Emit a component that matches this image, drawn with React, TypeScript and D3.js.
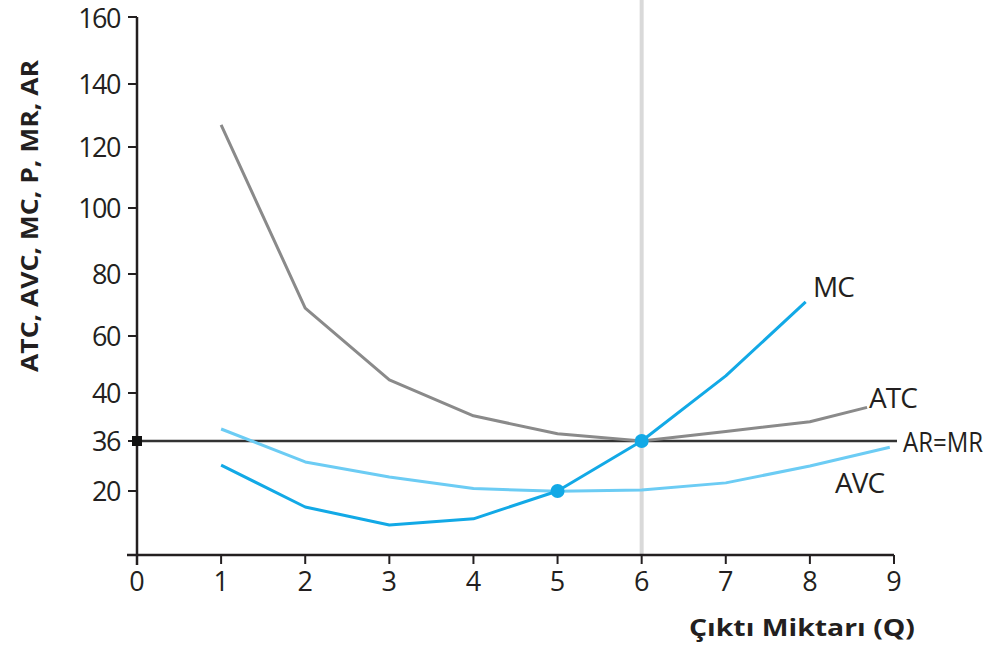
import React from "react";
import * as d3 from "d3";

const qTicks = [0, 1, 2, 3, 4, 5, 6, 7, 8, 9];
const yTicks = [20, 36, 40, 60, 80, 100, 120, 140, 160];

const mcQ = [1, 2, 3, 4, 5, 6, 7, 7.95];
const mcV = [28.3, 15, 9.4, 11.3, 20, 36, 46, 71];

const atcQ = [1, 2, 3, 4, 5, 6, 7, 8, 8.68];
const atcV = [127, 69, 44.6, 38.1, 36.6, 36, 36.8, 37.6, 38.8];

const avcQ = [1, 2, 3, 4, 5, 6, 7, 8, 8.95];
const avcV = [37, 29.3, 24.5, 20.8, 19.9, 20.3, 22.6, 28, 34];

const price = 36;
const optimumQ = 6;
const shutdownQ = 5;
const shutdownP = 20;

const W = 992;
const H = 646;

// the reference uses a non-uniform vertical axis
const yDomain = [0, 20, 36, 40, 60, 80, 100, 120, 140, 160];
const yRange = [555, 491, 441, 393, 336, 274, 208, 147, 84, 17];

export default function App() {
  const x = d3.scaleLinear().domain([0, 9]).range([137, 894]);
  const y = d3.scaleLinear().domain(yDomain).range(yRange);

  const mk = (qs: number[], vs: number[], curve: any) =>
    d3
      .line<number>()
      .x((_, i) => x(qs[i]))
      .y((v) => y(v))
      .curve(curve)(vs) as string;

  const mcPath = mk(mcQ, mcV, d3.curveLinear);
  const atcPath = mk(atcQ, atcV, d3.curveLinear);
  const avcPath = mk(avcQ, avcV, d3.curveLinear);

  const font = "'Open Sans', 'Noto Sans', sans-serif";
  const txt = "#231f20";
  const blue = "#12a9e6";
  const lightBlue = "#6cccf4";
  const gray = "#8a8a8a";

  return (
    <svg
      width={W}
      height={H}
      style={{ position: "absolute", left: 0, top: 0, background: "#fff" }}
      fontFamily={font}
    >
      {/* vertical guide at optimum */}
      <line x1={x(optimumQ)} x2={x(optimumQ)} y1={0} y2={y(0)} stroke="#d9d9d9" strokeWidth={4} />

      {/* axes */}
      <line x1={x(0)} x2={x(0)} y1={y(160)} y2={y(0) + 10} stroke="#231f20" strokeWidth={2.5} />
      <line x1={x(0) - 10} x2={x(9)} y1={y(0)} y2={y(0)} stroke="#231f20" strokeWidth={2.5} />
      {yTicks.map((t) => (
        <g key={t}>
          <line x1={x(0) - 9} x2={x(0)} y1={y(t)} y2={y(t)} stroke="#231f20" strokeWidth={2} />
          <text
            x={x(0) - 17}
            y={y(t) + (t === 160 ? 1 : 0)}
            dy="0.36em"
            textAnchor="end"
            fontSize={27}
            letterSpacing={-1.5}
            fill={txt}
          >
            {t}
          </text>
        </g>
      ))}
      {qTicks.map((t) => (
        <g key={t}>
          {t > 0 && (
            <line x1={x(t)} x2={x(t)} y1={y(0)} y2={y(0) + 9} stroke="#231f20" strokeWidth={2} />
          )}
          <text x={x(t)} y={y(0) + 36} textAnchor="middle" fontSize={27} fill={txt}>
            {t}
          </text>
        </g>
      ))}

      {/* AR = MR */}
      <line x1={x(0)} x2={897} y1={y(price)} y2={y(price)} stroke="#333" strokeWidth={2.5} />
      <rect x={x(0) - 5} y={y(price) - 5} width={10} height={10} fill="#111" />

      {/* curves */}
      <path d={atcPath} fill="none" stroke={gray} strokeWidth={3} strokeLinejoin="round" />
      <path d={avcPath} fill="none" stroke={lightBlue} strokeWidth={3} strokeLinejoin="round" />
      <path d={mcPath} fill="none" stroke={blue} strokeWidth={3} strokeLinejoin="round" />

      <circle cx={x(shutdownQ)} cy={y(shutdownP)} r={7} fill={blue} />
      <circle cx={x(optimumQ)} cy={y(price)} r={7} fill={blue} />

      {/* curve labels */}
      <text x={813} y={297} fontSize={28} fill={txt} letterSpacing={-1}>MC</text>
      <text x={869} y={408} fontSize={28} fill={txt} letterSpacing={-1}>ATC</text>
      <text x={903} y={452} fontSize={27} fill={txt} textLength={80} lengthAdjust="spacingAndGlyphs">AR=MR</text>
      <text x={835} y={493} fontSize={28} fill={txt} letterSpacing={-1}>AVC</text>

      {/* axis titles */}
      <text
        transform={`translate(38, 216) rotate(-90)`}
        textAnchor="middle"
        fontSize={24}
        fontWeight="bold"
        fill={txt}
        textLength={312}
        lengthAdjust="spacingAndGlyphs"
      >
        ATC, AVC, MC, P, MR, AR
      </text>
      <text
        x={802}
        y={636}
        textAnchor="middle"
        fontSize={24}
        fontWeight="bold"
        fill={txt}
        textLength={226}
        lengthAdjust="spacingAndGlyphs"
      >
        Çıktı Miktarı (Q)
      </text>
    </svg>
  );
}
